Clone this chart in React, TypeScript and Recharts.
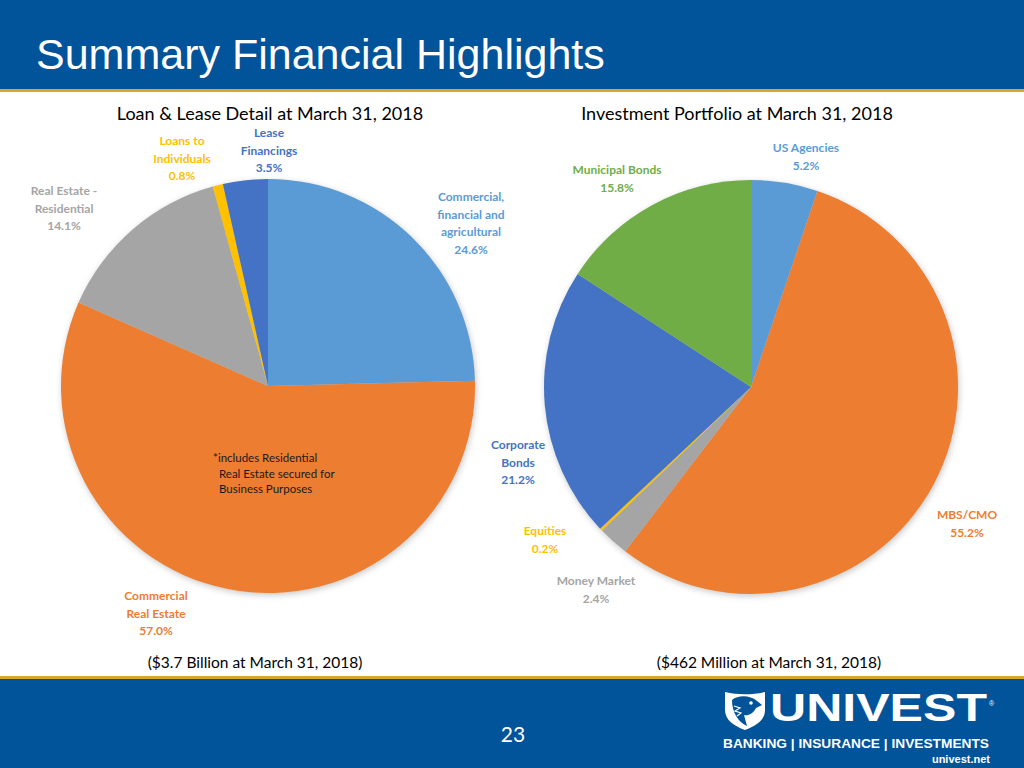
import React from 'react'
import { PieChart, Pie, Cell } from 'recharts'

// loan & lease detail, clockwise from 12 o'clock
const loanNames = ['Commercial, financial and agricultural', 'Commercial Real Estate', 'Real Estate - Residential', 'Loans to Individuals', 'Lease Financings']
const loanValues = [24.6, 57.0, 14.1, 0.8, 3.5]
const loanColors = ['#5B9BD5', '#ED7D31', '#A5A5A5', '#FFC000', '#4472C4']

// investment portfolio, clockwise from 12 o'clock
const invNames = ['US Agencies', 'MBS/CMO', 'Money Market', 'Equities', 'Corporate Bonds', 'Municipal Bonds']
const invValues = [5.2, 55.2, 2.4, 0.2, 21.2, 15.8]
const invColors = ['#5B9BD5', '#ED7D31', '#A5A5A5', '#FFC000', '#4472C4', '#70AD47']

const loanData = loanNames.map((name, i) => ({ name, value: loanValues[i] }))
const invData = invNames.map((name, i) => ({ name, value: invValues[i] }))

const CHART_TOP = 100

// label layout (center x, first line y)
const labels = [
  { lines: ['Lease', 'Financings', '3.5%'], color: '#4472C4', x: 269, y: 133 },
  { lines: ['Loans to', 'Individuals', '0.8%'], color: '#FFC000', x: 182, y: 141 },
  { lines: ['Real Estate -', 'Residential', '14.1%'], color: '#A5A5A5', x: 64, y: 191 },
  { lines: ['Commercial,', 'financial and', 'agricultural', '24.6%'], color: '#5B9BD5', x: 471, y: 197 },
  { lines: ['Commercial', 'Real Estate', '57.0%'], color: '#ED7D31', x: 156, y: 596 },
  { lines: ['US Agencies', '5.2%'], color: '#5B9BD5', x: 806, y: 148 },
  { lines: ['Municipal Bonds', '15.8%'], color: '#70AD47', x: 617, y: 170 },
  { lines: ['Corporate', 'Bonds', '21.2%'], color: '#4472C4', x: 518, y: 445 },
  { lines: ['Equities', '0.2%'], color: '#FFC000', x: 545, y: 531 },
  { lines: ['Money Market', '2.4%'], color: '#A5A5A5', x: 596, y: 581 },
  { lines: ['MBS/CMO', '55.2%'], color: '#ED7D31', x: 967, y: 515 },
]

const BLUE = '#01539A'
const GOLD = '#D9A62A'
const SANS = '"Liberation Sans", Arial, sans-serif'

export default function App() {
  return (
    <div style={{ position: 'absolute', left: 0, top: 0, width: 1024, height: 768, background: '#fff', overflow: 'hidden', fontFamily: 'Lato, sans-serif' }}>
      <style>{`body{margin:0}`}</style>

      {/* header */}
      <div style={{ position: 'absolute', left: 0, top: 0, width: 1024, height: 89, background: BLUE }} />
      <div style={{ position: 'absolute', left: 0, top: 89, width: 1024, height: 3, background: GOLD }} />
      <div style={{ position: 'absolute', left: 36, top: 33, color: '#fff', fontFamily: SANS, fontSize: 43, lineHeight: '43px', whiteSpace: 'nowrap' }}>
        Summary Financial Highlights
      </div>

      <div style={{ position: 'absolute', left: 270, top: 102, transform: 'translateX(-50%)', fontSize: 18, lineHeight: '22px', whiteSpace: 'nowrap', color: '#000' }}>
        Loan &amp; Lease Detail at March 31, 2018
      </div>
      <div style={{ position: 'absolute', left: 737, top: 102, transform: 'translateX(-50%)', fontSize: 18, lineHeight: '22px', whiteSpace: 'nowrap', color: '#000' }}>
        Investment Portfolio at March 31, 2018
      </div>

      <div style={{ position: 'absolute', left: 0, top: CHART_TOP, filter: 'drop-shadow(1px 2px 3px rgba(0,0,0,0.22))' }}>
        <PieChart width={1024} height={560} margin={{ top: 0, right: 0, bottom: 0, left: 0 }}>
          <Pie data={loanData} dataKey="value" nameKey="name" cx={268} cy={386 - CHART_TOP} outerRadius={207}
            startAngle={90} endAngle={-270} stroke="none" isAnimationActive={false}>
            {loanData.map((d, i) => <Cell key={d.name} fill={loanColors[i]} />)}
          </Pie>
          <Pie data={invData} dataKey="value" nameKey="name" cx={751} cy={387 - CHART_TOP} outerRadius={207}
            startAngle={90} endAngle={-270} stroke="none" isAnimationActive={false}>
            {invData.map((d, i) => <Cell key={d.name} fill={invColors[i]} />)}
          </Pie>
        </PieChart>
      </div>

      {labels.map((l, i) => (
        <div key={i} style={{ position: 'absolute', left: l.x, top: l.y - 9, transform: 'translateX(-50%)', color: l.color, fontWeight: 700, fontSize: 12, lineHeight: '17.5px', textAlign: 'center', whiteSpace: 'nowrap' }}>
          {l.lines.map((t, j) => <div key={j}>{t}</div>)}
        </div>
      ))}

      <div style={{ position: 'absolute', left: 213, top: 450, color: '#1a1a1a', fontSize: 11.5, lineHeight: '15.5px', whiteSpace: 'nowrap' }}>
        <div>*includes Residential</div>
        <div style={{ paddingLeft: 6 }}>Real Estate secured for</div>
        <div style={{ paddingLeft: 6 }}>Business Purposes</div>
      </div>

      <div style={{ position: 'absolute', left: 255, top: 652, transform: 'translateX(-50%)', fontSize: 15.5, lineHeight: '20px', whiteSpace: 'nowrap', color: '#000' }}>
        ($3.7 Billion at March 31, 2018)
      </div>
      <div style={{ position: 'absolute', left: 769, top: 652, transform: 'translateX(-50%)', fontSize: 15.5, lineHeight: '20px', whiteSpace: 'nowrap', color: '#000' }}>
        ($462 Million at March 31, 2018)
      </div>

      {/* footer */}
      <div style={{ position: 'absolute', left: 0, top: 676, width: 1024, height: 3, background: GOLD }} />
      <div style={{ position: 'absolute', left: 0, top: 679, width: 1024, height: 89, background: BLUE }} />
      <div style={{ position: 'absolute', left: 513, top: 721, transform: 'translateX(-50%)', color: '#fff', fontSize: 21, lineHeight: '26px' }}>23</div>

      <svg style={{ position: 'absolute', left: 720, top: 682 }} width={290} height={86}>
        <path d="M5,10 C18,13 32,13 45,10 L45,28 C45,38 36,44 25,48 C14,44 5,38 5,28 Z" fill="#fff" />
        <path d="M12,18 C18,13 30,13 37,19 L42,23 L36,26 C33,32 28,34 24,33 L27,44 C18,40 12,30 12,18 Z" fill={BLUE} />
        <path d="M14,24 L20,26 L15,29 L21,31 L17,34" stroke="#fff" strokeWidth={1.2} fill="none" />
        <circle cx={31} cy={21} r={1.8} fill="#fff" />
        <text x={50} y={39} fill="#fff" fontFamily={SANS} fontWeight={700} fontSize={38} textLength={217} lengthAdjust="spacingAndGlyphs">UNIVEST</text>
        <text x={269} y={24} fill="#fff" fontFamily={SANS} fontSize={7}>®</text>
        <text x={3} y={66} fill="#fff" fontFamily={SANS} fontWeight={700} fontSize={12} textLength={266} lengthAdjust="spacingAndGlyphs">BANKING | INSURANCE | INVESTMENTS</text>
        <text x={270} y={81} textAnchor="end" fill="#fff" fontFamily={SANS} fontWeight={700} fontSize={11}>univest.net</text>
      </svg>
    </div>
  )
}
